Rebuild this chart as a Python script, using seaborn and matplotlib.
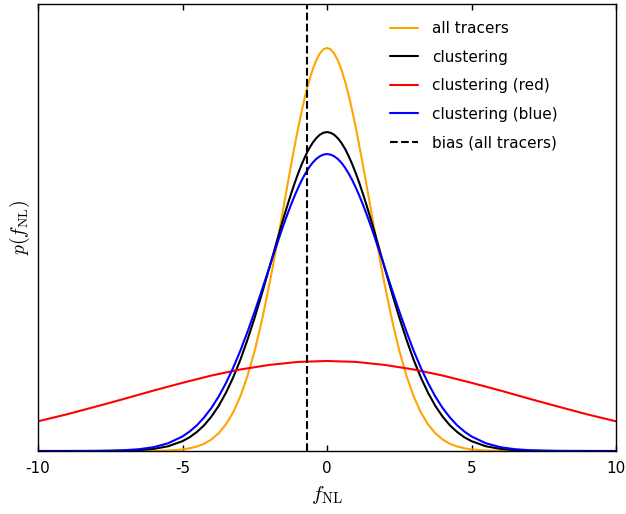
import pandas as pd
import numpy as np
import matplotlib
matplotlib.use("Agg")
import matplotlib.pyplot as plt
import seaborn as sns

# -----------------------------
# DATA
# -----------------------------
fnl_grid = [-10, -9, -8, -7.5, -7, -6.5, -6, -5.5,
            -5, -4.75, -4.5, -4.25, -4, -3.75, -3.5, -3.25, -3, -2.75, -2.5, -2.25,
            -2, -1.875, -1.75, -1.625, -1.5, -1.375, -1.25, -1.125, -1,
            -0.875, -0.75, -0.625, -0.5, -0.375, -0.25, -0.125, 0,
            0.125, 0.25, 0.375, 0.5, 0.625, 0.75, 0.875, 1,
            1.125, 1.25, 1.375, 1.5, 1.625, 1.75, 1.875, 2,
            2.25, 2.5, 2.75, 3, 3.25, 3.5, 3.75, 4, 4.25, 4.5, 4.75, 5,
            5.5, 6, 6.5, 7, 7.5, 8, 9, 10]

p_all = [0, 0, 0, 0, 0, 0, 0.0001, 0.0003,
         0.0010, 0.0018, 0.0030, 0.0048, 0.0076, 0.0117, 0.0175, 0.0254, 0.0360, 0.0496, 0.0663, 0.0864,
         0.1094, 0.1218, 0.1347, 0.1479, 0.1613, 0.1748, 0.1880, 0.2008, 0.2130,
         0.2244, 0.2348, 0.2439, 0.2516, 0.2578, 0.2623, 0.2651, 0.2660,
         0.2651, 0.2623, 0.2578, 0.2516, 0.2439, 0.2348, 0.2244, 0.2130,
         0.2008, 0.1880, 0.1748, 0.1613, 0.1479, 0.1347, 0.1218, 0.1094,
         0.0864, 0.0663, 0.0496, 0.0360, 0.0254, 0.0175, 0.0117, 0.0076, 0.0048, 0.0030, 0.0018, 0.0010,
         0.0003, 0.0001, 0, 0, 0, 0, 0, 0]

p_clust = [0, 0, 0, 0.0001, 0.0002, 0.0006, 0.0014, 0.0031,
           0.0065, 0.0091, 0.0126, 0.0170, 0.0227, 0.0297, 0.0383, 0.0484, 0.0601, 0.0735, 0.0882, 0.1040,
           0.1206, 0.1290, 0.1374, 0.1458, 0.1539, 0.1618, 0.1693, 0.1765, 0.1831,
           0.1892, 0.1946, 0.1994, 0.2033, 0.2064, 0.2087, 0.2100, 0.2105,
           0.2100, 0.2087, 0.2064, 0.2033, 0.1994, 0.1946, 0.1892, 0.1831,
           0.1765, 0.1693, 0.1618, 0.1539, 0.1458, 0.1374, 0.1290, 0.1206,
           0.1040, 0.0882, 0.0735, 0.0601, 0.0484, 0.0383, 0.0297, 0.0227, 0.0170, 0.0126, 0.0091, 0.0065,
           0.0031, 0.0014, 0.0006, 0.0002, 0.0001, 0, 0, 0]

p_blue = [0, 0.00001, 0.00009, 0.00022, 0.00053, 0.0012, 0.0025, 0.0051,
          0.0096, 0.0129, 0.0170, 0.0222, 0.0284, 0.0359, 0.0447, 0.0548, 0.0661, 0.0787, 0.0922, 0.1064,
          0.1209, 0.1282, 0.1354, 0.1425, 0.1494, 0.1560, 0.1623, 0.1682, 0.1737,
          0.1787, 0.1831, 0.1870, 0.1902, 0.1927, 0.1945, 0.1956, 0.1960,
          0.1956, 0.1945, 0.1927, 0.1902, 0.1870, 0.1831, 0.1787, 0.1737,
          0.1682, 0.1623, 0.1560, 0.1494, 0.1425, 0.1354, 0.1282, 0.1209,
          0.1064, 0.0922, 0.0787, 0.0661, 0.0548, 0.0447, 0.0359, 0.0284, 0.0222, 0.0170, 0.0129, 0.0096,
          0.0051, 0.0025, 0.0012, 0.00053, 0.00022, 0.00009, 0.00001, 0]

fnl_red = [-10, -9, -8, -7, -6, -5, -4, -3, -2, -1, 0,
           1, 2, 3, 4, 5, 6, 7, 8, 9, 10]
p_red = [0.0196, 0.0242, 0.0293, 0.0345, 0.0399, 0.0450, 0.0498, 0.0538, 0.0568, 0.0588, 0.0594,
         0.0588, 0.0568, 0.0538, 0.0498, 0.0450, 0.0399, 0.0345, 0.0293, 0.0242, 0.0196]

bias_fnl = -0.68

labels = ["all tracers", "clustering", "clustering (red)", "clustering (blue)",
          "bias (all tracers)"]
colors = ["orange", "black", "red", "blue"]
xticks = [-10, -5, 0, 5, 10]

# -----------------------------
# PLOT
# -----------------------------
sns.set_style("white")
plt.rcParams["mathtext.fontset"] = "cm"
plt.rcParams["axes.unicode_minus"] = False
plt.rcParams["font.family"] = ["DejaVu Sans"]
plt.rcParams["text.color"] = "black"
plt.rcParams["axes.labelcolor"] = "black"

fig = plt.figure(figsize=(6.26, 5.14), dpi=100)
ax = fig.add_axes([38 / 626, 1 - 451 / 514, 578 / 626, 447 / 514])

df = pd.DataFrame({"fnl": fnl_grid, labels[0]: p_all,
                   labels[1]: p_clust, labels[3]: p_blue})
df_red = pd.DataFrame({"fnl": fnl_red, labels[2]: p_red})

sns.lineplot(data=df, x="fnl", y=labels[0], color=colors[0], lw=1.5, label=labels[0], ax=ax)
sns.lineplot(data=df, x="fnl", y=labels[1], color=colors[1], lw=1.5, label=labels[1], ax=ax)
sns.lineplot(data=df_red, x="fnl", y=labels[2], color=colors[2], lw=1.5, label=labels[2], ax=ax)
sns.lineplot(data=df, x="fnl", y=labels[3], color=colors[3], lw=1.5, label=labels[3], ax=ax)
ax.axvline(bias_fnl, color="black", ls="--", lw=1.5, label=labels[4])

ax.set_xlim(-10, 10)
ax.set_ylim(0, 0.295)
ax.set_xticks(xticks)
ax.set_xticklabels([str(t) for t in xticks])
ax.set_yticks([])
ax.tick_params(axis="x", direction="in", top=True, bottom=True, length=4,
               width=1, labelsize=11, pad=7, colors="black")

for s in ax.spines.values():
    s.set_color("black")
    s.set_linewidth(1)

ax.set_xlabel(r"$f_{\rm NL}$", fontsize=15, labelpad=6)
ax.set_ylabel(r"$p(f_{\rm NL})$", fontsize=14, labelpad=4)

ax.legend(loc="upper right", bbox_to_anchor=(0.9225, 0.992), frameon=False,
          fontsize=11, handlelength=1.83, labelspacing=0.88, handletextpad=0.92)

plt.savefig("out.png", dpi=100)
